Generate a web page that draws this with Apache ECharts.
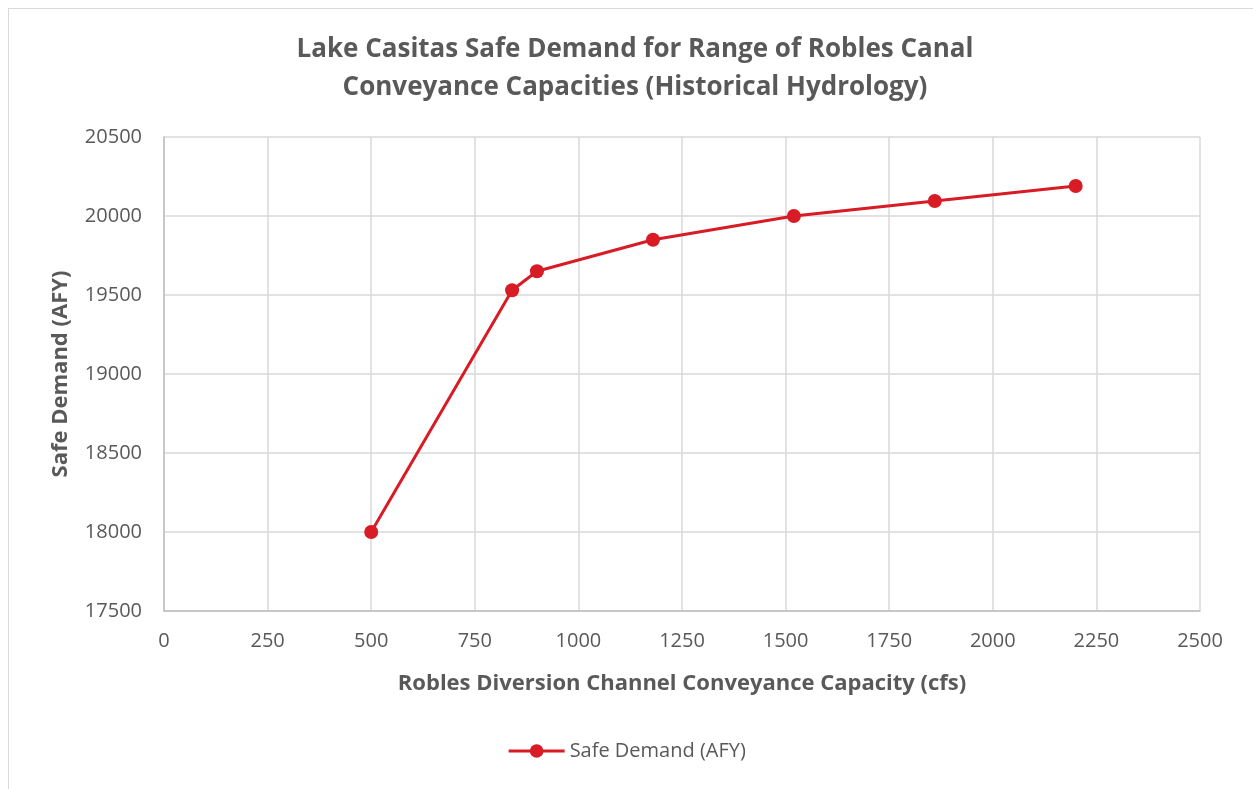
<!DOCTYPE html>
<html lang="en">
<head>
    <meta charset="UTF-8">
    <title>Lake Casitas Safe Demand</title>
    <script src="https://cdn.jsdelivr.net/npm/echarts@6/dist/echarts.min.js"></script>
</head>
<body style="margin: 0; background: #fff">
<div style="position: absolute; left: 8px; top: 8px; width: 1260px; height: 800px; border: 1px solid #d9d9d9"></div>
<div id="chart" style="position: absolute; left: 0; top: 0; width: 1253px; height: 789px"></div>
<script>
    // capacity (cfs) and safe demand (AFY)
    let capacity = [500, 840, 900, 1180, 1520, 1860, 2200];
    let demand = [18000, 19530, 19650, 19850, 20000, 20095, 20190];
    let seriesName = 'Safe Demand (AFY)';

    let points = capacity.map((c, i) => [c, demand[i]]);
    let font = '"Open Sans", "Liberation Sans", sans-serif';

    let chart = echarts.init(document.getElementById('chart'));
    let option = {
        animation: false,
        title: {
            text: 'Lake Casitas Safe Demand for Range of Robles Canal\nConveyance Capacities (Historical Hydrology)',
            left: 630,
            textAlign: 'center',
            top: 26,
            textStyle: {
                fontFamily: font,
                fontSize: 26,
                fontWeight: 'bold',
                color: '#595959',
                lineHeight: 38
            }
        },
        legend: {
            bottom: 23,
            left: 'center',
            itemWidth: 56,
            itemHeight: 17,
            lineStyle: {width: 3},
            textStyle: {fontFamily: font, fontSize: 20, color: '#595959'},
            data: [seriesName]
        },
        grid: {left: 164, right: 53, top: 137, bottom: 178},
        xAxis: {
            type: 'value',
            min: 0,
            max: 2500,
            interval: 250,
            name: 'Robles Diversion Channel Conveyance Capacity (cfs)',
            nameLocation: 'middle',
            nameGap: 62,
            nameTextStyle: {fontFamily: font, fontSize: 22, fontWeight: 'bold', color: '#595959'},
            axisLine: {show: true, lineStyle: {color: '#bfbfbf', width: 1.5}},
            axisTick: {show: false},
            axisLabel: {fontFamily: font, fontSize: 20, color: '#595959', margin: 20, formatter: v => String(v)},
            splitLine: {show: true, lineStyle: {color: '#d9d9d9', width: 1.5}}
        },
        yAxis: {
            type: 'value',
            min: 17500,
            max: 20500,
            interval: 500,
            name: 'Safe Demand (AFY)',
            nameLocation: 'middle',
            nameGap: 92,
            nameTextStyle: {fontFamily: font, fontSize: 22, fontWeight: 'bold', color: '#595959'},
            axisLine: {show: true, lineStyle: {color: '#bfbfbf', width: 1.5}},
            axisTick: {show: false},
            axisLabel: {fontFamily: font, fontSize: 20, color: '#595959', margin: 22, formatter: v => String(v)},
            splitLine: {show: true, lineStyle: {color: '#d9d9d9', width: 1.5}}
        },
        series: [
            {
                name: seriesName,
                type: 'line',
                data: points,
                symbol: 'circle',
                symbolSize: 14,
                color: '#d81b25',
                lineStyle: {width: 3, color: '#d81b25'},
                itemStyle: {color: '#d81b25'}
            }
        ]
    };
    chart.setOption(option);
</script>
</body>
</html>
